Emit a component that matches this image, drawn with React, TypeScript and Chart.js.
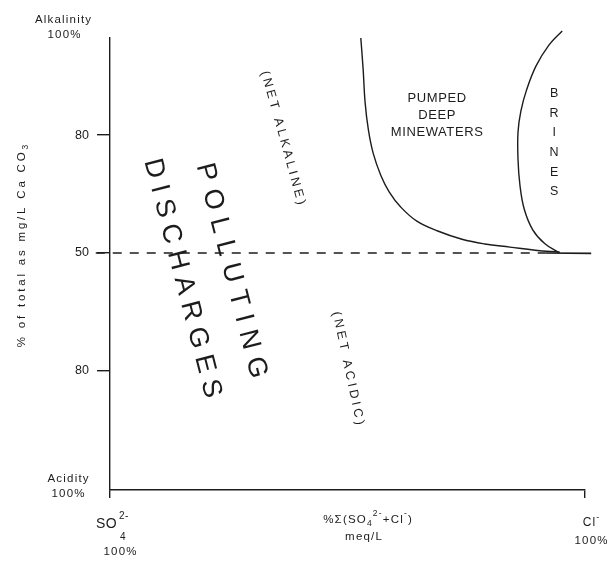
import React, { useEffect, useRef } from "react";
import { Chart, registerables } from "chart.js";

Chart.register(...registerables);

// ---- data (x: % of SO4/Cl sum toward Cl-, y: alkalinity share %) ----
const pumpedX = [52.8, 53.3, 53.7, 54.4, 55.4, 57.0, 58.8, 61.2, 64.6, 69.0, 74.1, 78.9, 84.2, 89.5, 94.7];
const pumpedY = [104.7, 96.6, 88.4, 81.3, 75.4, 69.8, 65.5, 61.7, 58.1, 55.6, 53.5, 52.3, 51.5, 50.7, 50.2];
const brinesX = [95.2, 92.4, 89.7, 87.7, 86.5, 85.9, 85.9, 86.3, 87.2, 89.0, 91.5, 94.5];
const brinesY = [106.5, 102.9, 97.6, 91.5, 86.1, 80.8, 73.7, 67.3, 61.2, 55.9, 52.4, 50.1];
const tailX = [91.6, 101.3];
const tailY = [50.0, 49.9];
const dividerX = [-3, 91.6];
const dividerY = [50, 50];
const yTickValues = [20, 50, 80];
const yTickLabels = ["80", "50", "80"];
const xTickValues = [0, 100];
const Y_MIN = -10.3;
const Y_MAX = 104.7;

const INK = "#1c1c1c";
const FONT = '"Liberation Sans", Arial, Helvetica, sans-serif';

const toPts = (xs: number[], ys: number[]) => xs.map((x, i) => ({ x, y: ys[i] }));

type Run = [string, number, number]; // text, font size, vertical offset

const annotations = {
  id: "annotations",
  afterDraw(chart: any) {
    const { ctx, scales, chartArea } = chart;
    const sx = scales.x;
    const sy = scales.y;
    ctx.save();
    ctx.fillStyle = INK;
    ctx.textBaseline = "middle";
    ctx.textAlign = "left";

    const text = (s: string, px: number, py: number, size: number, spacing = 0, angle = 0, weight = "normal") => {
      ctx.save();
      ctx.font = `${weight} ${size}px ${FONT}`;
      (ctx as any).letterSpacing = spacing + "px";
      const w = ctx.measureText(s).width - spacing;
      ctx.translate(px, py);
      ctx.rotate((angle * Math.PI) / 180);
      ctx.fillText(s, -w / 2, 0);
      ctx.restore();
    };

    const runs = (parts: Run[], px: number, py: number, spacing = 0, angle = 0) => {
      ctx.save();
      (ctx as any).letterSpacing = spacing + "px";
      const widths = parts.map(([t, s]) => {
        ctx.font = `${s}px ${FONT}`;
        return ctx.measureText(t).width;
      });
      const total = widths.reduce((a, b) => a + b, 0) - spacing;
      ctx.translate(px, py);
      ctx.rotate((angle * Math.PI) / 180);
      let cx = -total / 2;
      parts.forEach(([t, s, dy], i) => {
        ctx.font = `${s}px ${FONT}`;
        ctx.fillText(t, cx, dy);
        cx += widths[i];
      });
      ctx.restore();
    };

    const L = chartArea.left;
    const R = chartArea.right;
    const T = chartArea.top;
    const B = chartArea.bottom;

    // axis end labels
    text("Alkalinity", L - 47, T - 18, 11.5, 1.2);
    text("100%", L - 46, T - 3, 11.5, 1.2);
    text("Acidity", L - 42, B - 11, 11.5, 1.2);
    text("100%", L - 42, B + 4, 11.5, 1.2);

    // y axis title
    runs(
      [["% of total as mg/L Ca CO", 11.5, 0], ["3", 8.5, 4]],
      22, (T + B) / 2 - 18, 2.8, -90
    );

    // SO4 2- 100%
    ctx.save();
    ctx.font = `14px ${FONT}`;
    (ctx as any).letterSpacing = "0.5px";
    ctx.fillText("SO", L - 14, B + 34);
    ctx.font = `10px ${FONT}`;
    ctx.fillText("2-", L + 9, B + 26);
    ctx.fillText("4", L + 10, B + 47);
    ctx.restore();
    text("100%", L + 10, B + 62, 11.5, 1.2);

    // x axis title
    runs(
      [["%Σ(SO", 11.5, 0], ["4", 8.5, 4], ["2-", 8.5, -6], ["+Cl", 11.5, 0], ["-", 8.5, -6], [")", 11.5, 0]],
      (L + R) / 2 + 20, B + 30, 1.2
    );
    text("meq/L", (L + R) / 2 + 16, B + 47, 11.5, 1.2);

    // Cl- 100%
    runs([["Cl", 12, 0], ["-", 9, -5]], R + 6, B + 33, 1);
    text("100%", R + 6, B + 51, 11.5, 1.2);

    // region labels
    text("(NET ALKALINE)", sx.getPixelForValue(36.4), sy.getPixelForValue(79.3), 12.5, 3.2, 74.5);
    text("(NET ACIDIC)", sx.getPixelForValue(50.1), sy.getPixelForValue(20.7), 12.5, 3.3, 78);
    text("POLLUTING", sx.getPixelForValue(25.5), sy.getPixelForValue(45.5), 27, 8.5, 75.6);
    text("DISCHARGES", sx.getPixelForValue(15.2), sy.getPixelForValue(43.6), 27, 7.5, 75.5);

    const px = sx.getPixelForValue(68.8);
    const py = sy.getPixelForValue(89.4);
    ["PUMPED", "DEEP", "MINEWATERS"].forEach((s, i) => text(s, px, py + i * 17, 13, 0.6));

    const bx = sx.getPixelForValue(93.5);
    const by = sy.getPixelForValue(90.5);
    "BRINES".split("").forEach((c, i) => text(c, bx, by + i * 19.6, 12.5, 0));

    ctx.restore();
  },
};

export default function App() {
  const canvasRef = useRef<HTMLCanvasElement | null>(null);

  useEffect(() => {
    if (!canvasRef.current) return;
    const lineStyle = {
      borderColor: INK,
      borderWidth: 1.4,
      pointRadius: 0,
      showLine: true,
      fill: false,
      clip: false as any,
    };
    const chart = new Chart(canvasRef.current, {
      type: "scatter",
      data: {
        datasets: [
          { ...lineStyle, label: "Pumped deep minewaters", data: toPts(pumpedX, pumpedY), tension: 0.4 },
          { ...lineStyle, label: "Brines", data: toPts(brinesX, brinesY), tension: 0.4 },
          { ...lineStyle, label: "Common end", data: toPts(tailX, tailY), tension: 0, borderWidth: 1.6 },
          { ...lineStyle, label: "Net alkaline / net acidic", data: toPts(dividerX, dividerY), borderDash: [9, 8], borderWidth: 1.6 },
        ],
      },
      options: {
        responsive: false,
        animation: false,
        devicePixelRatio: 1,
        layout: { padding: { top: 38, right: 24, bottom: 0, left: 0 } },
        plugins: { legend: { display: false }, tooltip: { enabled: false } },
        scales: {
          x: {
            type: "linear",
            min: 0,
            max: 100,
            afterBuildTicks: (scale: any) => {
              scale.ticks = xTickValues.map((v) => ({ value: v }));
            },
            afterFit: (scale: any) => {
              scale.height = 71;
            },
            ticks: { display: false },
            grid: { drawOnChartArea: false, drawTicks: true, tickLength: 8, color: INK, lineWidth: 1.4 },
            border: { display: true, color: INK, width: 1.4 },
          },
          y: {
            type: "linear",
            min: Y_MIN,
            max: Y_MAX,
            afterBuildTicks: (scale: any) => {
              scale.ticks = yTickValues.map((v) => ({ value: v }));
            },
            afterFit: (scale: any) => {
              scale.width = 110;
            },
            ticks: {
              color: INK,
              padding: 8,
              font: { family: FONT, size: 12.5 },
              callback: (v: any) => {
                const i = yTickValues.indexOf(Number(v));
                return i >= 0 ? yTickLabels[i] : "";
              },
            },
            grid: { drawOnChartArea: false, drawTicks: true, tickLength: 13, color: INK, lineWidth: 1.4 },
            border: { display: true, color: INK, width: 1.4 },
          },
        },
      },
      plugins: [annotations],
    } as any);
    return () => chart.destroy();
  }, []);

  return (
    <div style={{ position: "fixed", left: 0, top: 0, width: 609, height: 561, background: "#fff" }}>
      <canvas ref={canvasRef} width={609} height={561} />
    </div>
  );
}
